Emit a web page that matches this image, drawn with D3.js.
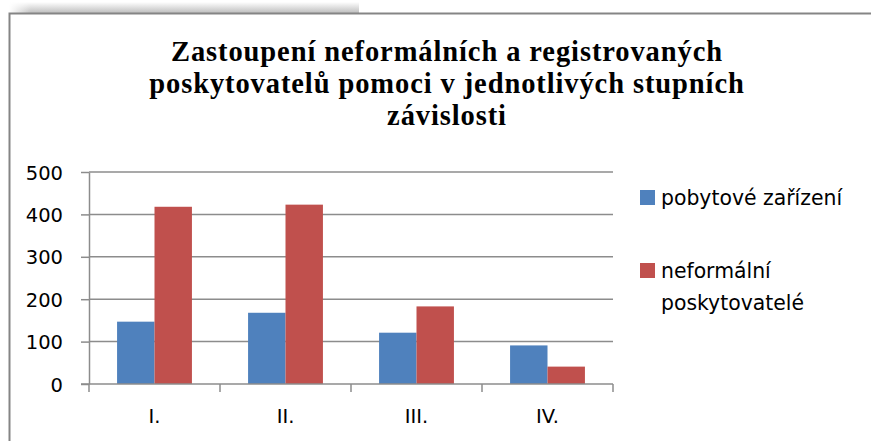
<!DOCTYPE html>
<html>
<head>
<meta charset="utf-8">
<script src="https://cdn.jsdelivr.net/npm/d3@7"></script>
<style>
body{margin:0;background:#fff;}
svg{display:block;}
</style>
</head>
<body>
<script>
let categories=["I.","II.","III.","IV."];
let seriesNames=["pobytové zařízení","neformální poskytovatelé"];
let pobytove=[147,168,121,91];
let neformalni=[418,423,183,41];
let yTicks=[0,100,200,300,400,500];
let titleLines=["Zastoupení neformálních a registrovaných","poskytovatelů pomoci v jednotlivých stupních","závislosti"];
let colors=["#4F81BD","#C0504D"];

let W=871,H=441;
let svg=d3.select("body").append("svg").attr("width",W).attr("height",H);

// shadow strip above the frame
let defs=svg.append("defs");
let gr=defs.append("linearGradient").attr("id","shadow").attr("x1",0).attr("y1",0).attr("x2",0).attr("y2",1);
gr.append("stop").attr("offset","0%").attr("stop-color","#ffffff");
gr.append("stop").attr("offset","100%").attr("stop-color","#b8b8b8");
let gl=defs.append("linearGradient").attr("id","shadowL").attr("x1",0).attr("y1",0).attr("x2",1).attr("y2",0);
gl.append("stop").attr("offset","0%").attr("stop-color","#ffffff").attr("stop-opacity",1);
gl.append("stop").attr("offset","100%").attr("stop-color","#ffffff").attr("stop-opacity",0);
svg.append("rect").attr("x",9).attr("y",2).attr("width",350).attr("height",12).attr("fill","url(#shadow)");
svg.append("rect").attr("x",9).attr("y",2).attr("width",22).attr("height",12).attr("fill","url(#shadowL)");

// frame
svg.append("path").attr("d","M9.5,"+(H+2)+"V13.5H"+(W+2)).attr("fill","none").attr("stroke","#858585").attr("stroke-width",2);

// title
let title=svg.append("text").attr("text-anchor","middle").style("font","bold 28.5px 'Liberation Serif'")
  .style("letter-spacing","0.9px").style("fill","#000");
titleLines.forEach((t,i)=>{
  title.append("tspan").attr("x",447).attr("y",61+i*32).text(t);
});

let m={left:89,right:613,top:172,bottom:384};
let x=d3.scaleBand().domain(categories).range([m.left,m.right]).paddingInner(0).paddingOuter(0);
let x1=d3.scaleBand().domain([0,1]).range([0,x.bandwidth()]).paddingInner(0).paddingOuter(0.75);
let y=d3.scaleLinear().domain([0,500]).range([m.bottom,m.top]);

// gridlines
svg.append("g").selectAll("line").data(yTicks.slice(1)).enter().append("line")
  .attr("x1",m.left).attr("x2",m.right).attr("y1",d=>y(d)).attr("y2",d=>y(d))
  .attr("stroke","#8c8c8c").attr("stroke-width",1.5);

// bars
let data=categories.map((c,i)=>({c:c,v:[pobytove[i],neformalni[i]]}));
let groups=svg.append("g").selectAll("g").data(data).enter().append("g")
  .attr("transform",d=>"translate("+x(d.c)+",0)");
groups.selectAll("rect").data(d=>d.v.map((v,k)=>({k:k,v:v}))).enter().append("rect")
  .attr("x",d=>x1(d.k)).attr("width",x1.bandwidth())
  .attr("y",d=>y(d.v)).attr("height",d=>y(0)-y(d.v))
  .attr("fill",d=>colors[d.k]);

let lf="19.5px 'DejaVu Sans'";

// y axis
let yAxis=svg.append("g").attr("transform","translate("+m.left+",0)")
  .call(d3.axisLeft(y).tickValues(yTicks).tickSize(8).tickPadding(18).tickSizeOuter(0));
yAxis.select(".domain").attr("stroke","#8c8c8c").attr("stroke-width",1.5);
yAxis.selectAll(".tick line").attr("stroke","#8c8c8c").attr("stroke-width",1.5);
yAxis.selectAll(".tick text").style("font",lf).attr("fill","#000").attr("dy","0.36em");

// x axis
let xAxis=svg.append("g").attr("transform","translate(0,"+m.bottom+")")
  .call(d3.axisBottom(x).tickSize(0).tickPadding(0));
xAxis.select(".domain").remove();
xAxis.append("line").attr("x1",m.left-8).attr("x2",m.right).attr("y1",0).attr("y2",0)
  .attr("stroke","#8c8c8c").attr("stroke-width",1.5);
xAxis.selectAll(".xt").data(categories.map(c=>x(c)).concat([m.right])).enter().append("line").attr("class","xt")
  .attr("x1",d=>d).attr("x2",d=>d).attr("y1",0).attr("y2",8)
  .attr("stroke","#8c8c8c").attr("stroke-width",1.5);
xAxis.selectAll(".tick text").style("font",lf).attr("fill","#000")
  .attr("y",39).attr("dy",0);

// legend
let legend=svg.append("g");
let legY=[190,263];
let legLines=[["pobytové zařízení"],["neformální","poskytovatelé"]];
seriesNames.forEach((s,i)=>{
  legend.append("rect").attr("x",640).attr("y",legY[i]).attr("width",15).attr("height",15).attr("fill",colors[i]);
  let t=legend.append("text").style("font","20.4px 'DejaVu Sans'").attr("fill","#000");
  legLines[i].forEach((l,j)=>{
    t.append("tspan").attr("x",661).attr("y",legY[i]+15+j*32).text(l);
  });
});
</script>
</body>
</html>
